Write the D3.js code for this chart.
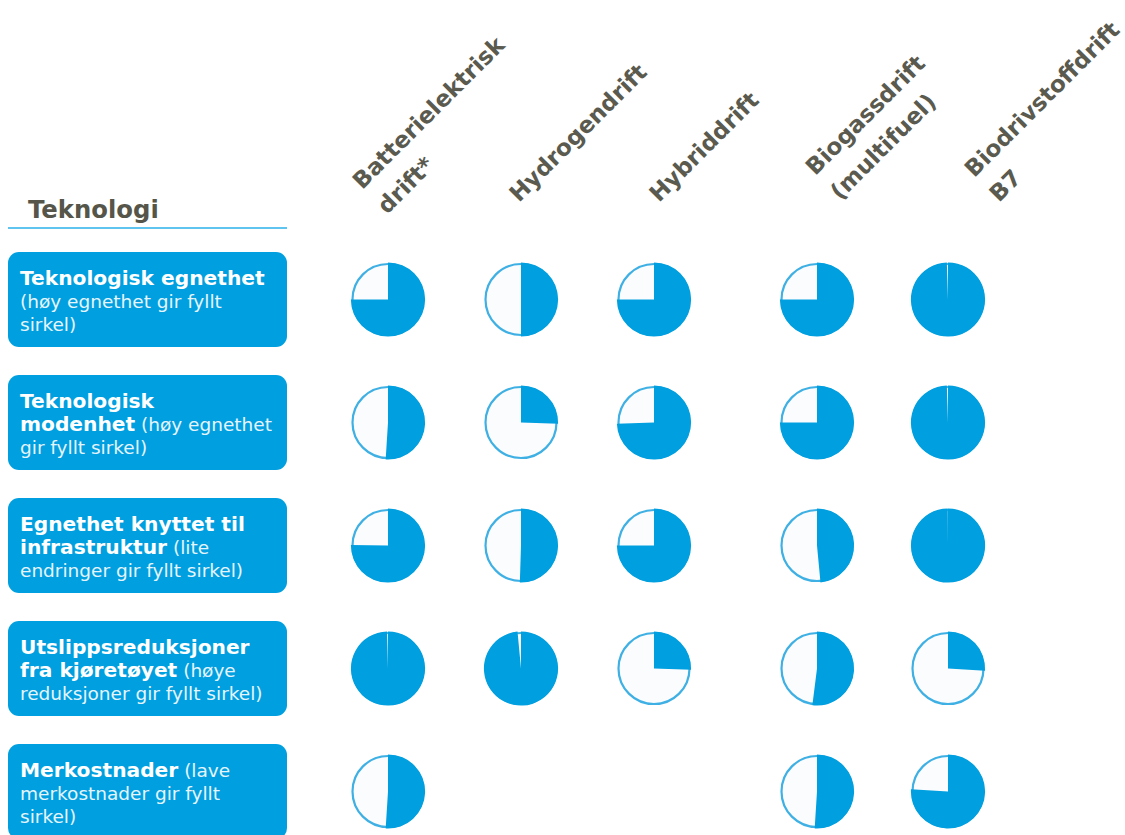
<!DOCTYPE html>
<html>
<head>
<meta charset="utf-8">
<script src="https://cdn.jsdelivr.net/npm/d3@7"></script>
<style>
  body { margin: 0; background: #fff; }
  text { font-family: "DejaVu Sans", Verdana, sans-serif; }
</style>
</head>
<body>
<script>
"use strict";

// columns (technologies), each label split in lines
const columns = ["Batterielektrisk drift*", "Hydrogendrift", "Hybriddrift", "Biogassdrift (multifuel)", "Biodrivstoffdrift B7"];
const columnLines = [["Batterielektrisk", "drift*"], ["Hydrogendrift"], ["Hybriddrift"], ["Biogassdrift", "(multifuel)"], ["Biodrivstoffdrift", "B7"]];

// rows (criteria)
const rows = ["Teknologisk egnethet", "Teknologisk modenhet", "Infrastruktur", "Utslippsreduksjoner", "Merkostnader"];
const rowLines = [
    [[["Teknologisk egnethet", true]], [["(høy egnethet gir fyllt", false]], [["sirkel)", false]]],
    [[["Teknologisk", true]], [["modenhet", true], [" (høy egnethet", false]], [["gir fyllt sirkel)", false]]],
    [[["Egnethet knyttet til", true]], [["infrastruktur", true], [" (lite", false]], [["endringer gir fyllt sirkel)", false]]],
    [[["Utslippsreduksjoner", true]], [["fra kjøretøyet", true], [" (høye", false]], [["reduksjoner gir fyllt sirkel)", false]]],
    [[["Merkostnader", true], [" (lave", false]], [["merkostnader gir fyllt", false]], [["sirkel)", false]]]
];

// share of the circle that is filled, one value per column (null = no circle)
const teknEgnethet  = [0.75, 0.5, 0.75, 0.75, 0.995];
const teknModenhet  = [0.51, 0.255, 0.745, 0.75, 0.995];
const infrastruktur = [0.752, 0.505, 0.75, 0.485, 0.999];
const utslipp       = [0.996, 0.985, 0.255, 0.52, 0.26];
const merkostnader  = [0.51, null, null, 0.51, 0.76];
const values = [teknEgnethet, teknModenhet, infrastruktur, utslipp, merkostnader];

const W = 1125, H = 835;
const blue = "#009fe0", ring = "#3fb0e4", empty = "#fbfcfe", grey = "#5a5a4f";

const svg = d3.select("body").append("svg")
    .attr("width", W)
    .attr("height", H);

// scales
let x = d3.scaleOrdinal().domain(columns).range([388, 521, 654, 817, 948]);
let y = d3.scaleBand().domain(rows).range([252, 839]).paddingInner(28 / 123).paddingOuter(0);
const r = 36.5;

// header label anchors (start of the last line), relative to column centre
const headAnchor = [{dx: -1, y: 215}, {dx: -2, y: 203}, {dx: 5, y: 203}, {dx: 23, y: 201}, {dx: 51, y: 203}];
const headLine = 35;

columns.forEach(function(c, i){
    let lines = columnLines[i];
    let t = svg.append("text")
        .attr("transform", "translate(" + (x(c) + headAnchor[i].dx) + "," + headAnchor[i].y + ") rotate(-45)")
        .style("font-size", "23px")
        .style("font-weight", "bold")
        .style("fill", grey);
    lines.forEach(function(l, j){
        t.append("tspan")
            .attr("x", 0)
            .attr("y", -(lines.length - 1 - j) * headLine)
            .text(l);
    });
});

// title
svg.append("text")
    .attr("x", 28)
    .attr("y", 218)
    .style("font-size", "24.3px")
    .style("font-weight", "bold")
    .style("fill", "#55554a")
    .text("Teknologi");
svg.append("line")
    .attr("x1", 8).attr("x2", 287)
    .attr("y1", 228).attr("y2", 228)
    .style("stroke", "#5fc4ef")
    .style("stroke-width", 2);

// row boxes
let rowG = svg.selectAll("g.row").data(rows).enter().append("g")
    .attr("class", "row")
    .attr("transform", function(d){ return "translate(8," + y(d) + ")"; });

rowG.append("rect")
    .attr("width", 279)
    .attr("height", y.bandwidth())
    .attr("rx", 11)
    .style("fill", blue);

rowG.each(function(d, i){
    let g = d3.select(this);
    rowLines[i].forEach(function(line, j){
        let t = g.append("text")
            .attr("x", 12)
            .attr("y", 33 + j * 23)
            .style("fill", "#fff");
        line.forEach(function(seg){
            t.append("tspan")
                .style("font-weight", seg[1] ? "bold" : "normal")
                .style("font-size", seg[1] ? "20.2px" : "18.5px")
                .style("fill", seg[1] ? "#fff" : "#e6f5fc")
                .text(seg[0]);
        });
    });
});

// pies
let pie = d3.pie().sort(null).value(function(d){ return d; });
let arc = d3.arc().innerRadius(0).outerRadius(r + 0.6);

values.forEach(function(row, i){
    row.forEach(function(v, j){
        if (v === null) return;
        let g = svg.append("g")
            .attr("transform", "translate(" + x(columns[j]) + "," + (y(rows[i]) + y.bandwidth() / 2) + ")");
        g.append("circle")
            .attr("r", r - 1)
            .style("fill", empty)
            .style("stroke", ring)
            .style("stroke-width", 2.2);
        g.append("path")
            .attr("d", arc(pie([v, 1 - v])[0]))
            .style("fill", blue);
    });
});
</script>
</body>
</html>
